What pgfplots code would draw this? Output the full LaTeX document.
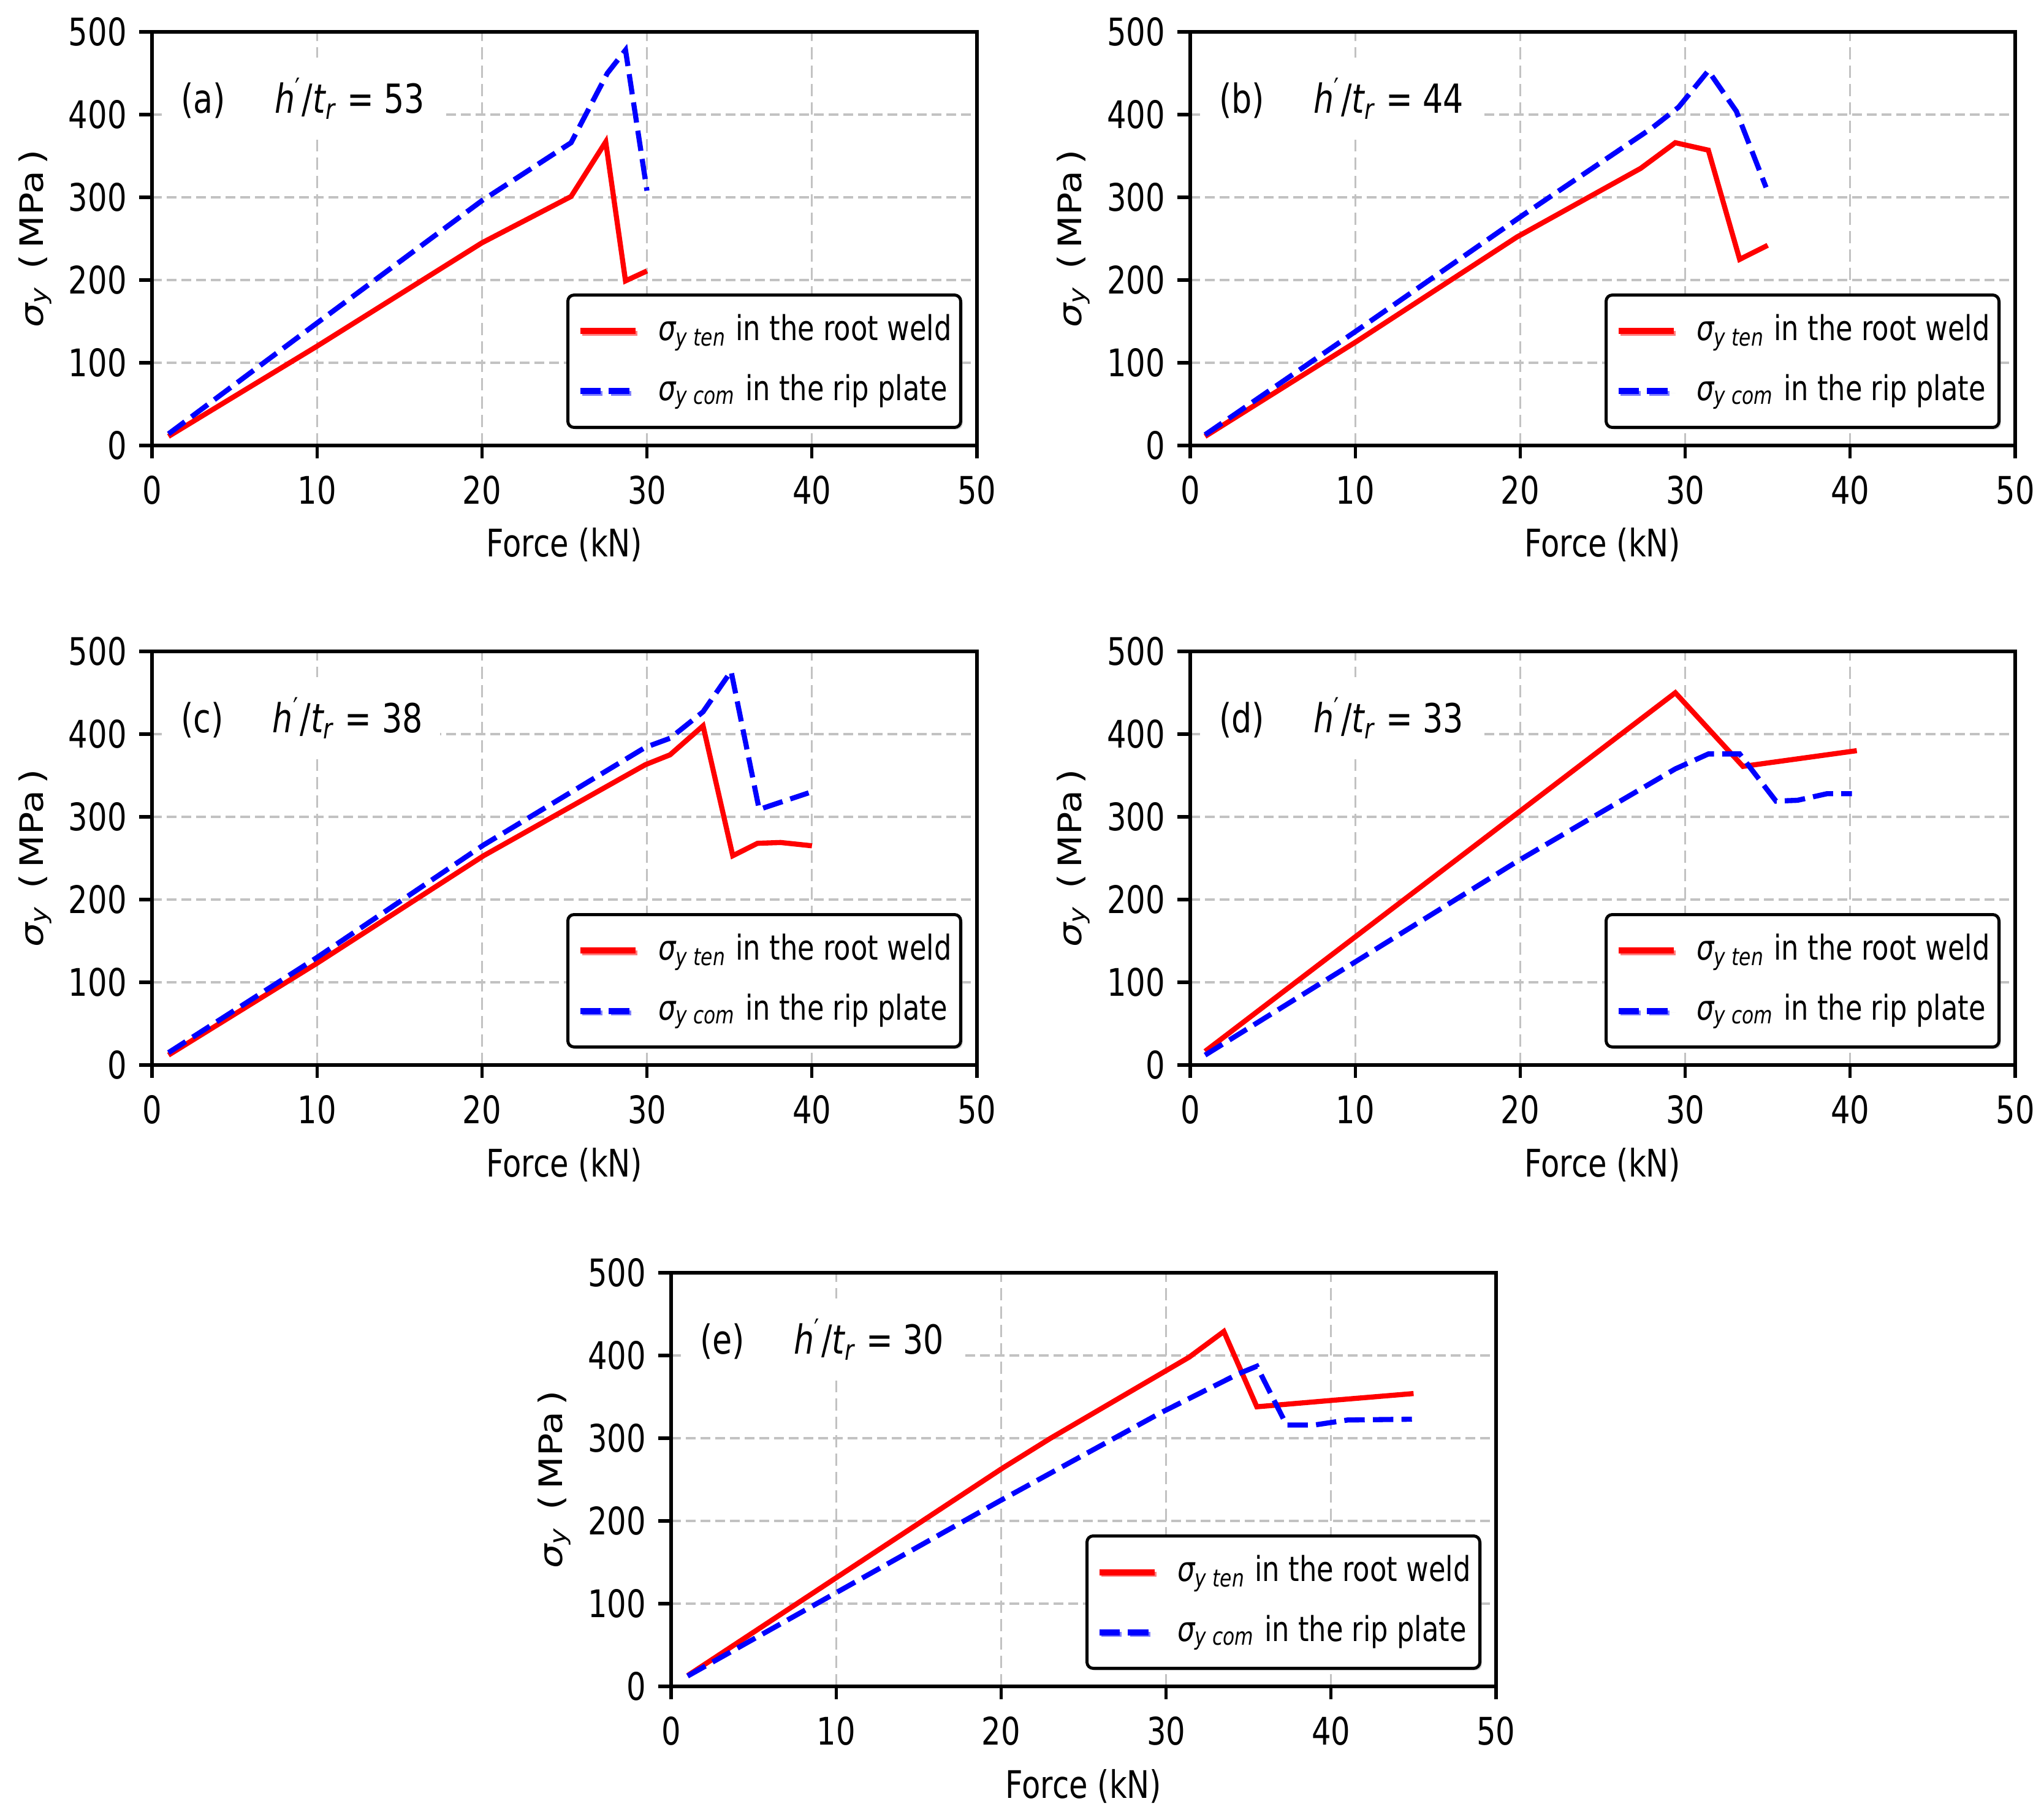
\documentclass[border=0pt]{standalone}
\usepackage{fontspec}
\setmainfont{DejaVu Sans}[FakeStretch=0.8]
\newfontfamily\plainsans{DejaVu Sans}
\usepackage{graphicx}
\usepackage{pgfplots}
\pgfplotsset{compat=1.18}
\usetikzlibrary{shadows}

\definecolor{mplred}{rgb}{1,0,0}
\definecolor{mplblue}{rgb}{0,0,1}
\definecolor{gridgray}{rgb}{0.76,0.76,0.76}

\newcommand{\tfont}{\fontsize{9.3pt}{11pt}\selectfont}
\newcommand{\lfont}{\fontsize{8.4pt}{10pt}\selectfont}
\newcommand{\afont}{\fontsize{9.8pt}{11pt}\selectfont}

\tikzset{tag/.style={fill=white, inner xsep=4.2pt, inner ysep=5pt, anchor=base west, font=\afont}}

\pgfplotsset{
 panel/.style={
  width=201.9pt, height=101.25pt, scale only axis,
  xmin=0,xmax=50,ymin=0,ymax=500,
  xtick={0,10,...,50}, ytick={0,100,...,500},
  tick pos=left, tick align=outside, major tick length=3.15pt,
  every tick/.style={black, line width=0.8pt},
  axis line style={line width=0.8pt},
  grid=major,
  x grid style={gridgray, line width=0.4pt, dash pattern=on 3pt off 1.5pt},
  y grid style={gridgray, line width=0.6pt, dash pattern=on 2.4pt off 1.2pt},
  /pgf/number format/assume math mode=true,
  tick label style={font=\tfont, inner sep=0pt},
  xticklabel style={anchor=north, yshift=-4pt},
  yticklabel style={anchor=east, xshift=-2.85pt},
  xlabel={Force (kN)},
  every axis x label/.style={at={([yshift=-27.3pt]axis description cs:0.5,0)}, anchor=base, inner sep=0pt, font=\tfont},
  ylabel={\plainsans\scalebox{1}[0.85]{{\itshape σ}\textsubscript{\itshape y}\hspace{4pt}(\,MPa\,)}},
  every axis y label/.style={at={([xshift=-26.6pt]axis description cs:0,0.5)}, rotate=90, anchor=base, inner sep=0pt, font=\tfont},
  legend style={at={([xshift=-3.6pt,yshift=4.05pt]axis description cs:1,0)}, anchor=south east,
    draw=black, line width=0.75pt, rounded corners=1.5pt, fill=white,
    inner xsep=2.25pt, inner ysep=4.65pt, row sep=6.3pt, column sep=4.95pt,
    font=\lfont, nodes={inner sep=0pt, text height=6.4pt, text depth=2pt},
    drop shadow={shadow xshift=0.5pt, shadow yshift=-0.5pt, fill=black!35}},
  legend cell align=left,
  legend image code/.code={\draw[##1, line width=1.5pt] (0pt,0pt) -- (13.5pt,0pt);},
 },
 redline/.style={mplred, line width=1.25pt},
 blueline/.style={mplblue, line width=1.25pt, dash pattern=on 5pt off 2pt},
}

\newcommand{\legents}{%
  \addlegendentry{{\itshape σ}\textsubscript{\itshape y ten} in the root weld}
  \addlegendentry{{\itshape σ}\textsubscript{\itshape y com} in the rip plate}}
\newcommand{\tagtext}[2]{(#1)\hspace{12pt}{\itshape h}\textsuperscript{′}/{\itshape t}\textsubscript{\itshape r} = #2}

\begin{document}
\begin{tikzpicture}
\path (0pt,0pt) rectangle (500.25pt,-443.55pt);

% (a)
\begin{axis}[panel, at={(37.2pt,-109.05pt)}, anchor=south west]
\addplot[redline] coordinates {(1,11) (10,120) (20,245) (25.4,301) (27.5,367) (28.7,199) (30,211)};
\addplot[blueline] coordinates {(1,14) (10,148) (20,296) (25.4,366) (27.6,450) (28.7,478) (30,308)};
\legents
\node[tag] at (axis cs:0.67,401.5) {\tagtext{a}{53}};
\end{axis}

% (b)
\begin{axis}[panel, at={(291.3pt,-109.05pt)}, anchor=south west]
\addplot[redline] coordinates {(0.9,11) (10.1,126) (19.8,252) (27.3,335) (29.4,366) (31.4,357) (33.3,225) (35,242)};
\addplot[blueline] coordinates {(0.9,13) (10.1,139) (20.2,279) (28,384) (29.6,409) (31.4,453) (33.1,404) (34.9,312)};
\legents
\node[tag] at (axis cs:0.67,401.5) {\tagtext{b}{44}};
\end{axis}

% (c)
\begin{axis}[panel, at={(37.2pt,-260.7pt)}, anchor=south west]
\addplot[redline] coordinates {(1,12) (10,123) (20.1,253) (29.9,363) (31.4,375) (33.4,410) (35.2,253) (36.7,268) (38.1,269) (40,265)};
\addplot[blueline] coordinates {(1,15) (10,130) (20.1,266) (29.9,384) (31.4,395) (33.4,427) (35.1,476) (36.8,309) (39.8,329)};
\legents
\node[tag] at (axis cs:0.67,401.5) {\tagtext{c}{38}};
\end{axis}

% (d)
\begin{axis}[panel, at={(291.3pt,-260.7pt)}, anchor=south west]
\addplot[redline] coordinates {(0.9,16.5) (29.4,450) (33.5,361) (40.4,380)};
\addplot[blueline] coordinates {(0.9,12) (19.8,246) (29.4,358) (31.4,376) (33.3,376) (35.5,319) (36.8,320) (38.6,328) (40.1,328)};
\legents
\node[tag] at (axis cs:0.67,401.5) {\tagtext{d}{33}};
\end{axis}

% (e)
\begin{axis}[panel, at={(164.25pt,-412.8pt)}, anchor=south west]
\addplot[redline] coordinates {(1,13) (20.1,264) (23,300) (31.4,398) (33.5,429) (35.5,338) (40.2,346) (45,354)};
\addplot[blueline] coordinates {(1,12.5) (19.9,224) (29.7,331) (34.4,378) (35.5,387) (37.3,316) (39,316) (41,322) (44.9,323)};
\legents
\node[tag] at (axis cs:0.67,401.5) {\tagtext{e}{30}};
\end{axis}
\end{tikzpicture}
\end{document}
